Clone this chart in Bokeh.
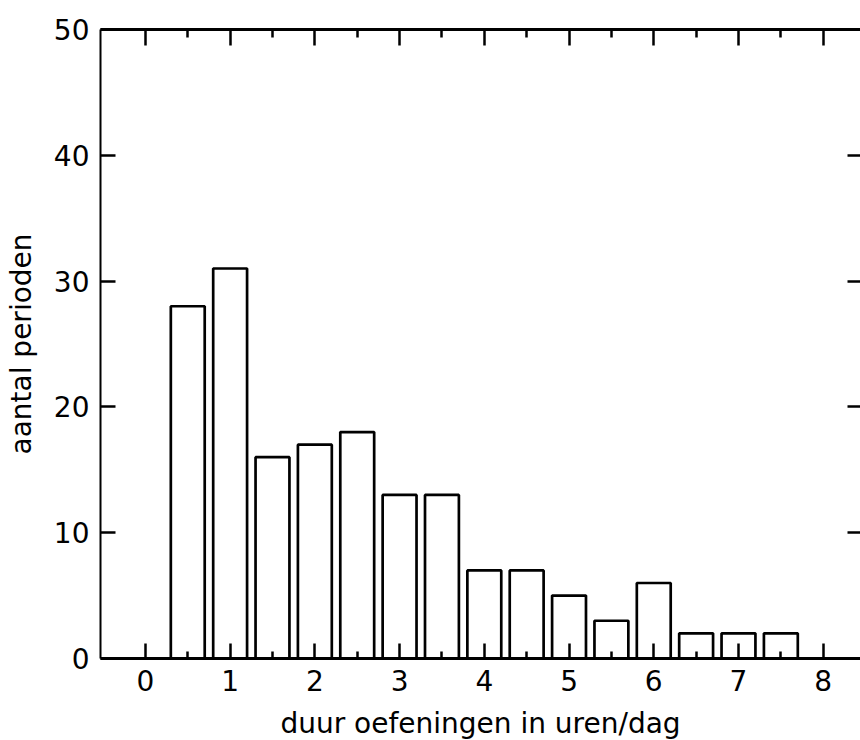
from bokeh.plotting import figure
from bokeh.models import LinearAxis, FixedTicker, Range1d
from bokeh.embed import file_html
from bokeh.resources import INLINE

# data
bar_x = [0.5, 1.0, 1.5, 2.0, 2.5, 3.0, 3.5, 4.0, 4.5, 5.0, 5.5, 6.0, 6.5, 7.0, 7.5]
counts = [28, 31, 16, 17, 18, 13, 13, 7, 7, 5, 3, 6, 2, 2, 2]
x_major = [0, 1, 2, 3, 4, 5, 6, 7, 8]
x_minor = [0.5, 1.5, 2.5, 3.5, 4.5, 5.5, 6.5, 7.5]
y_major = [0, 10, 20, 30, 40, 50]
x_title = "duur oefeningen in uren/dag"
y_title = "aantal perioden"

FONT = "DejaVu Sans"

p = figure(frame_width=760, frame_height=629,
           x_range=Range1d(-0.53, 8.44), y_range=Range1d(0, 50),
           output_backend="svg", toolbar_location=None,
           x_axis_location=None, y_axis_location=None,
           min_border_left=100, min_border_top=29,
           min_border_bottom=82, min_border_right=0)
p.outline_line_color = None
p.grid.grid_line_color = None
p.background_fill_color = "white"
p.border_fill_color = "white"

p.vbar(x=bar_x, top=counts, bottom=0, width=0.4,
       fill_color="white", line_color="black", line_width=2.7)


def style(ax, tick_in, minor_in, line_w):
    ax.major_tick_in = tick_in
    ax.major_tick_out = 0
    ax.minor_tick_in = minor_in
    ax.minor_tick_out = 0
    ax.axis_line_width = line_w
    ax.axis_line_color = "black"
    ax.major_tick_line_width = 2.5
    ax.minor_tick_line_width = 2.5
    ax.major_tick_line_color = "black"
    ax.minor_tick_line_color = "black"
    ax.major_label_text_font = FONT
    ax.major_label_text_font_size = "28px"
    ax.major_label_text_color = "black"
    ax.axis_label_text_font = FONT
    ax.axis_label_text_font_size = "28px"
    ax.axis_label_text_font_style = "normal"
    ax.axis_label_text_color = "black"


bottom = LinearAxis(ticker=FixedTicker(ticks=x_major, minor_ticks=x_minor),
                    axis_label=x_title)
style(bottom, 15, 7, 3)
bottom.major_label_standoff = 11
bottom.axis_label_standoff = 13
p.add_layout(bottom, "below")

top = LinearAxis(ticker=FixedTicker(ticks=x_major, minor_ticks=x_minor))
style(top, 16, 8, 3)
top.major_label_overrides = {t: "" for t in x_major}
top.major_label_standoff = 0
p.add_layout(top, "above")

left = LinearAxis(ticker=FixedTicker(ticks=y_major, minor_ticks=[]),
                  axis_label=y_title)
style(left, 15, 0, 2)
left.major_label_standoff = 11
left.axis_label_standoff = 13
p.add_layout(left, "left")

right = LinearAxis(ticker=FixedTicker(ticks=y_major, minor_ticks=[]))
style(right, 13, 0, 0)
right.axis_line_color = None
right.major_label_overrides = {t: "" for t in y_major}
right.major_label_standoff = 0
p.add_layout(right, "right")

open("out.html", "w").write(file_html(p, INLINE))
